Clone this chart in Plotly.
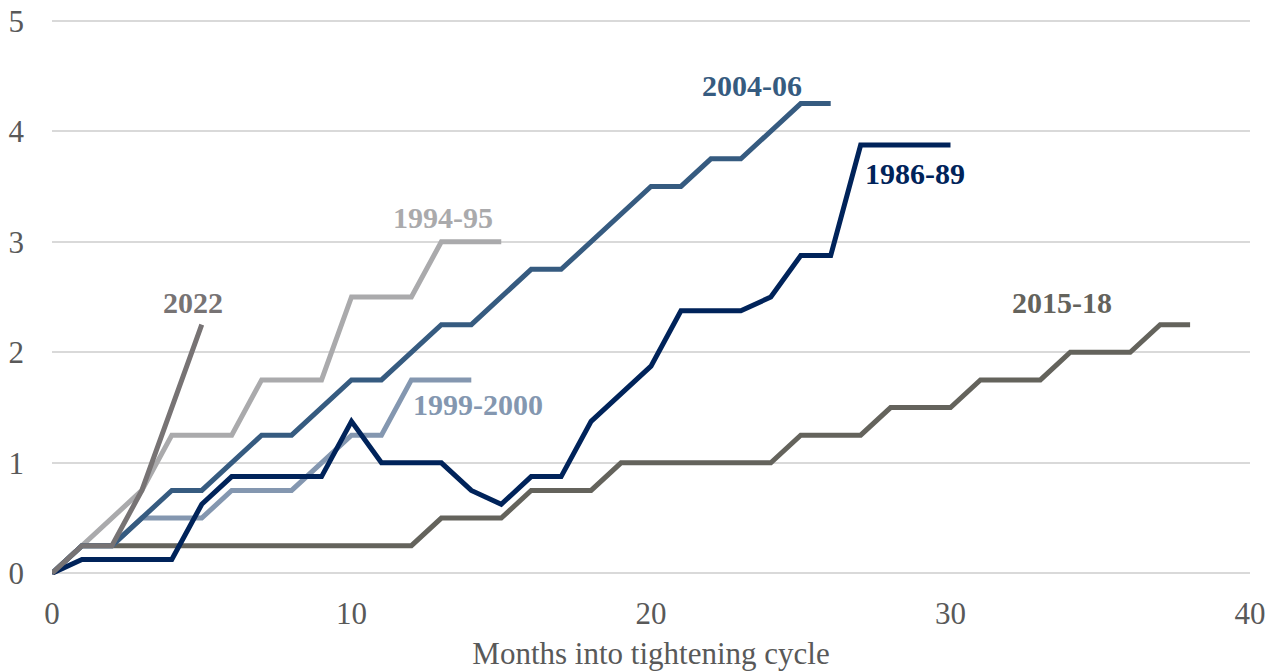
import plotly.graph_objects as go

months_8689 = list(range(0, 31))
vals_8689 = [0, 0.125, 0.125, 0.125, 0.125, 0.625, 0.875, 0.875, 0.875, 0.875, 1.375,
             1.0, 1.0, 1.0, 0.75, 0.625, 0.875, 0.875, 1.375, 1.625, 1.875,
             2.375, 2.375, 2.375, 2.5, 2.875, 2.875, 3.875, 3.875, 3.875, 3.875]

months_9495 = list(range(0, 16))
vals_9495 = [0, 0.25, 0.5, 0.75, 1.25, 1.25, 1.25, 1.75, 1.75, 1.75, 2.5, 2.5, 2.5, 3.0, 3.0, 3.0]

months_9900 = list(range(0, 15))
vals_9900 = [0, 0.25, 0.25, 0.5, 0.5, 0.5, 0.75, 0.75, 0.75, 1.0, 1.25, 1.25, 1.75, 1.75, 1.75]

months_0406 = list(range(0, 27))
vals_0406 = [0, 0.25, 0.25, 0.5, 0.75, 0.75, 1.0, 1.25, 1.25, 1.5, 1.75, 1.75, 2.0, 2.25, 2.25,
             2.5, 2.75, 2.75, 3.0, 3.25, 3.5, 3.5, 3.75, 3.75, 4.0, 4.25, 4.25]

months_1518 = list(range(0, 39))
vals_1518 = [0, 0.25, 0.25, 0.25, 0.25, 0.25, 0.25, 0.25, 0.25, 0.25, 0.25, 0.25, 0.25,
             0.5, 0.5, 0.5, 0.75, 0.75, 0.75, 1.0, 1.0, 1.0, 1.0, 1.0, 1.0,
             1.25, 1.25, 1.25, 1.5, 1.5, 1.5, 1.75, 1.75, 1.75, 2.0, 2.0, 2.0, 2.25, 2.25]

months_2022 = list(range(0, 6))
vals_2022 = [0, 0.25, 0.25, 0.75, 1.5, 2.25]

series = [
    ("2015-18", months_1518, vals_1518, "#64635c", 33.72, 2.45),
    ("1994-95", months_9495, vals_9495, "#aaaaac", 13.06, 3.22),
    ("1999-2000", months_9900, vals_9900, "#8497b0", 14.22, 1.53),
    ("2004-06", months_0406, vals_0406, "#365b80", 23.37, 4.41),
    ("1986-89", months_8689, vals_8689, "#00235a", 28.81, 3.62),
    ("2022", months_2022, vals_2022, "#777374", 4.71, 2.45),
]

FONT = "Liberation Serif"

fig = go.Figure()
for name, xs, ys, color, lx, ly in series:
    fig.add_trace(go.Scatter(x=xs, y=ys, mode="lines", name=name,
                             line=dict(color=color, width=5),
                             hoverinfo="x+y+name"))
    fig.add_annotation(x=lx, y=ly, text="<b>%s</b>" % name, showarrow=False,
                       font=dict(family=FONT, size=30, color=color),
                       xanchor="center", yanchor="middle")

fig.update_layout(
    width=1279, height=671,
    margin=dict(l=52, r=29, t=19, b=96, autoexpand=False),
    paper_bgcolor="white", plot_bgcolor="white",
    showlegend=False,
    font=dict(family=FONT, color="#595959"),
)
fig.update_xaxes(range=[0, 40], tickvals=[0, 10, 20, 30, 40], showgrid=False,
                 zeroline=False, showline=False, automargin=False,
                 tickfont=dict(family=FONT, size=31, color="#595959"),
                 ticklabelstandoff=17,
                 title=dict(text="Months into tightening cycle",
                            font=dict(family=FONT, size=31, color="#595959"),
                            standoff=16))
fig.update_yaxes(range=[-0.015, 5.015], tickvals=[0, 1, 2, 3, 4, 5], showgrid=True,
                 gridcolor="#d9d9d9", gridwidth=2, zeroline=False, showline=False,
                 automargin=False,
                 tickfont=dict(family=FONT, size=31, color="#595959"),
                 ticklabelstandoff=27)

fig.write_html("out.html", config={"displayModeBar": False},
               post_script="document.body.style.margin='0';document.body.style.overflow='hidden';")
